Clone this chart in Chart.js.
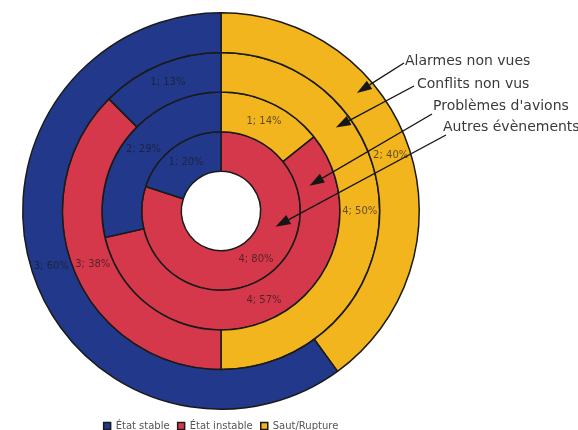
<!DOCTYPE html>
<html>
<head>
<meta charset="utf-8">
<script src="https://cdn.jsdelivr.net/npm/chart.js@4.4.0/dist/chart.umd.min.js"></script>
<style>
html,body{margin:0;padding:0;background:#fff;}
#wrap{width:578px;height:430px;position:relative;}
</style>
</head>
<body>
<div id="wrap"><canvas id="c"></canvas></div>
<script>
// ---- data ----
const categories = ['Saut/Rupture', 'État instable', 'État stable'];
const ringNames = ['Alarmes non vues', 'Conflits non vus', "Problèmes d'avions", 'Autres évènements'];
const alarmesNonVues   = [2, 0, 3];
const conflitsNonVus   = [4, 3, 1];
const problemesAvions  = [1, 4, 2];
const autresEvenements = [0, 4, 1];
const seriesValues = [alarmesNonVues, conflitsNonVus, problemesAvions, autresEvenements];

// ---- styles / layout ----
const sliceColors = ['#f3b51e', '#d5384b', '#22398b'];
const calloutLayout = [
  { tx: 405, ty: 61,  sx: 404, sy: 63,  angle: 49,  frac: 0.54 },
  { tx: 417, ty: 84,  sx: 414, sy: 86,  angle: 54,  frac: 0.58 },
  { tx: 433, ty: 106, sx: 432, sy: 114, angle: 74,  frac: 0.32 },
  { tx: 443, ty: 127, sx: 446, sy: 135, angle: 106, frac: 0.43 }
];

Chart.defaults.font.family = '"DejaVu Sans", sans-serif';

const sliceLabels = {
  id: 'sliceLabels',
  afterDatasetsDraw(chart) {
    const ctx = chart.ctx;
    ctx.save();
    ctx.font = '10px "DejaVu Sans"';
    ctx.fillStyle = 'rgba(25,25,25,0.68)';
    ctx.textAlign = 'center';
    ctx.textBaseline = 'middle';
    chart.data.datasets.forEach((ds, di) => {
      const meta = chart.getDatasetMeta(di);
      const total = ds.data.reduce((a, b) => a + b, 0);
      meta.data.forEach((arc, i) => {
        const v = ds.data[i];
        if (!v) return;
        const p = arc.tooltipPosition();
        ctx.fillText(v + '; ' + Math.round(v / total * 100) + '%', p.x, p.y);
      });
    });
    ctx.restore();
  }
};

const legendShift = {
  id: 'legendShift',
  afterLayout(chart) {
    if (chart.legend) {
      chart.legend.top += 3;
      chart.legend.bottom += 3;
    }
  }
};

const callouts = {
  id: 'callouts',
  afterDraw(chart) {
    const ctx = chart.ctx;
    ctx.save();
    chart.data.datasets.forEach((ds, di) => {
      const L = calloutLayout[di];
      const arc = chart.getDatasetMeta(di).data[0];
      const r = arc.innerRadius + L.frac * (arc.outerRadius - arc.innerRadius);
      const a = L.angle * Math.PI / 180;
      const tipX = arc.x + r * Math.sin(a);
      const tipY = arc.y - r * Math.cos(a);
      const dx = tipX - L.sx, dy = tipY - L.sy;
      const len = Math.hypot(dx, dy);
      const ux = dx / len, uy = dy / len;
      const headLen = 15, headHalf = 5;
      const bx = tipX - ux * headLen, by = tipY - uy * headLen;
      ctx.strokeStyle = '#161616';
      ctx.lineWidth = 1.4;
      ctx.beginPath();
      ctx.moveTo(L.sx, L.sy);
      ctx.lineTo(bx, by);
      ctx.stroke();
      ctx.fillStyle = '#161616';
      ctx.beginPath();
      ctx.moveTo(tipX, tipY);
      ctx.lineTo(bx - uy * headHalf, by + ux * headHalf);
      ctx.lineTo(bx + uy * headHalf, by - ux * headHalf);
      ctx.closePath();
      ctx.fill();
      ctx.fillStyle = '#3a3a3a';
      ctx.font = '14px "DejaVu Sans"';
      ctx.textAlign = 'left';
      ctx.textBaseline = 'middle';
      ctx.fillText(ds.label, L.tx, L.ty);
    });
    ctx.restore();
  }
};

new Chart(document.getElementById('c'), {
  type: 'doughnut',
  data: {
    labels: categories,
    datasets: seriesValues.map((vals, i) => ({
      label: ringNames[i],
      data: vals,
      backgroundColor: sliceColors,
      borderColor: '#1a1a1a',
      borderWidth: 1.5
    }))
  },
  options: {
    responsive: true,
    maintainAspectRatio: false,
    animation: false,
    cutout: '20%',
    layout: { padding: { top: 12, left: 20, right: 156, bottom: 0 } },
    plugins: {
      tooltip: { enabled: false },
      legend: {
        position: 'bottom',
        reverse: true,
        maxHeight: 20,
        labels: {
          boxWidth: 7,
          boxHeight: 7,
          padding: 8,
          color: '#555',
          font: { size: 10, family: '"DejaVu Sans"' }
        }
      }
    }
  },
  plugins: [sliceLabels, legendShift, callouts]
});
</script>
</body>
</html>
